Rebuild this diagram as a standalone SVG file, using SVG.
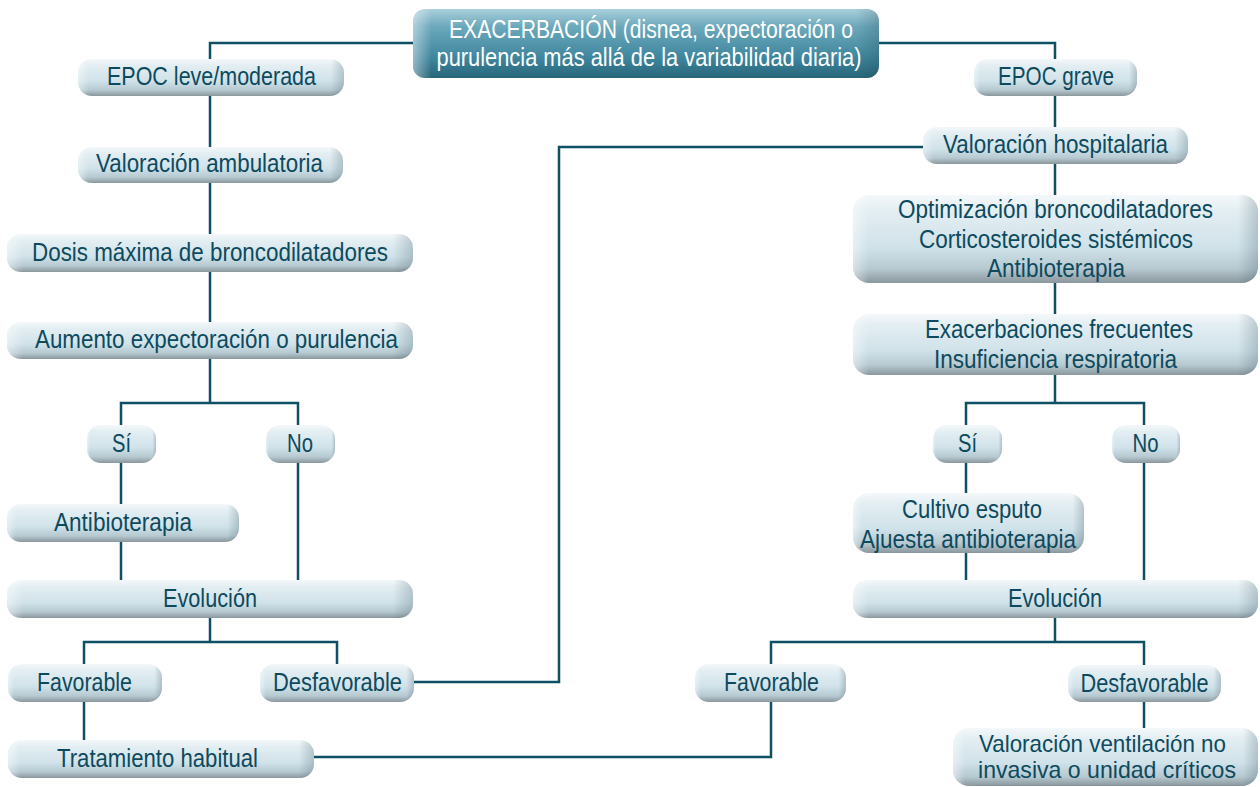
<svg xmlns="http://www.w3.org/2000/svg" width="1260" height="787" viewBox="0 0 1260 787">
  <defs>
    <!-- light pill body -->
    <linearGradient id="pill" x1="0" y1="0" x2="0" y2="1">
      <stop offset="0" stop-color="#f4f8fa"/>
      <stop offset="0.18" stop-color="#e3eef2"/>
      <stop offset="0.6" stop-color="#d0e2e9"/>
      <stop offset="0.84" stop-color="#b6c8d0"/>
      <stop offset="1" stop-color="#8a979d"/>
    </linearGradient>
    <!-- side shading of the pills -->
    <linearGradient id="pillSide" x1="0" y1="0" x2="1" y2="0">
      <stop offset="0" stop-color="#ffffff" stop-opacity="0.45"/>
      <stop offset="0.04" stop-color="#ffffff" stop-opacity="0"/>
      <stop offset="0.95" stop-color="#1d3f4c" stop-opacity="0"/>
      <stop offset="1" stop-color="#1d3f4c" stop-opacity="0.22"/>
    </linearGradient>
    <!-- dark teal header -->
    <linearGradient id="head" x1="0" y1="0" x2="0" y2="1">
      <stop offset="0" stop-color="#a9d0dc"/>
      <stop offset="0.25" stop-color="#6da9bc"/>
      <stop offset="0.7" stop-color="#3f879e"/>
      <stop offset="1" stop-color="#276579"/>
    </linearGradient>
    <style>
      .box { fill: url(#pill); }
      .side { fill: url(#pillSide); }
      .lbl { font-family: "Liberation Sans Narrow", "Liberation Sans", "DejaVu Sans Condensed", sans-serif; font-size: 26px; fill: #0d4a5e; text-anchor: middle; }
      .sm { font-size: 24px; }
      .hlbl { font-family: "Liberation Sans Narrow", "Liberation Sans", "DejaVu Sans Condensed", sans-serif; font-size: 26px; fill: #ffffff; text-anchor: middle; }
      .wire { fill: none; stroke: #0f4f64; stroke-width: 2.5; }
    </style>
  </defs>

  <rect width="1260" height="787" fill="#ffffff"/>

  <!-- connectors -->
  <g id="connectors" class="wire">
    <path d="M413,43 H210 V59"/>
    <path d="M879,43 H1055 V59"/>
    <path d="M210,96 V147"/>
    <path d="M210,183 V234"/>
    <path d="M210,272 V322"/>
    <path d="M210,359 V403"/>
    <path d="M121,425 V403 H298 V425"/>
    <path d="M121,463 V504"/>
    <path d="M121,542 V580"/>
    <path d="M298,463 V580"/>
    <path d="M210,618 V642"/>
    <path d="M84,664 V642 H337 V664"/>
    <path d="M84,702 V740"/>
    <path d="M414,682 H559 V147 H923"/>
    <path d="M314,757 H771 V702"/>
    <path d="M1055,96 V127"/>
    <path d="M1055,164 V195"/>
    <path d="M1055,283 V314"/>
    <path d="M1055,375 V403"/>
    <path d="M966,425 V403 H1144 V425"/>
    <path d="M966,463 V493"/>
    <path d="M966,553 V580"/>
    <path d="M1144,463 V580"/>
    <path d="M1055,618 V642"/>
    <path d="M771,664 V642 H1144 V665"/>
    <path d="M1144,702 V728"/>
  </g>

  <!-- header -->
  <g id="exacerbacion">
    <rect x="413" y="9" width="466" height="69" rx="12" fill="url(#head)"/>
    <rect x="413" y="9" width="466" height="69" rx="12" class="side"/>
    <text class="hlbl" x="651" y="38" textLength="404" lengthAdjust="spacingAndGlyphs">EXACERBACIÓN (disnea, expectoración o</text>
    <text class="hlbl" x="649" y="66" textLength="425" lengthAdjust="spacingAndGlyphs">purulencia más allá de la variabilidad diaria)</text>
  </g>

  <!-- left branch -->
  <g id="epoc-leve">
    <rect class="box" x="78" y="59" width="266" height="37" rx="14"/>
    <rect class="side" x="78" y="59" width="266" height="37" rx="14"/>
    <text class="lbl" x="211.5" y="85" textLength="209" lengthAdjust="spacingAndGlyphs">EPOC leve/moderada</text>
  </g>
  <g id="valoracion-ambulatoria">
    <rect class="box" x="78" y="147" width="265" height="36" rx="14"/>
    <rect class="side" x="78" y="147" width="265" height="36" rx="14"/>
    <text class="lbl" x="209.5" y="172" textLength="227" lengthAdjust="spacingAndGlyphs">Valoración ambulatoria</text>
  </g>
  <g id="dosis-maxima">
    <rect class="box" x="7" y="234" width="406" height="38" rx="14"/>
    <rect class="side" x="7" y="234" width="406" height="38" rx="14"/>
    <text class="lbl" x="210" y="261" textLength="356" lengthAdjust="spacingAndGlyphs">Dosis máxima de broncodilatadores</text>
  </g>
  <g id="aumento-expectoracion">
    <rect class="box" x="7" y="322" width="406" height="37" rx="14"/>
    <rect class="side" x="7" y="322" width="406" height="37" rx="14"/>
    <text class="lbl" x="216.5" y="348" textLength="363" lengthAdjust="spacingAndGlyphs">Aumento expectoración o purulencia</text>
  </g>
  <g id="si-izq">
    <rect class="box" x="87" y="425" width="69" height="38" rx="14"/>
    <rect class="side" x="87" y="425" width="69" height="38" rx="14"/>
    <text class="lbl" x="121.5" y="452" textLength="19" lengthAdjust="spacingAndGlyphs">Sí</text>
  </g>
  <g id="no-izq">
    <rect class="box" x="266" y="425" width="69" height="38" rx="14"/>
    <rect class="side" x="266" y="425" width="69" height="38" rx="14"/>
    <text class="lbl" x="300" y="452" textLength="26" lengthAdjust="spacingAndGlyphs">No</text>
  </g>
  <g id="antibioterapia-izq">
    <rect class="box" x="7" y="504" width="232" height="38" rx="14"/>
    <rect class="side" x="7" y="504" width="232" height="38" rx="14"/>
    <text class="lbl" x="123" y="531" textLength="138" lengthAdjust="spacingAndGlyphs">Antibioterapia</text>
  </g>
  <g id="evolucion-izq">
    <rect class="box" x="7" y="580" width="406" height="38" rx="14"/>
    <rect class="side" x="7" y="580" width="406" height="38" rx="14"/>
    <text class="lbl" x="210" y="607" textLength="94" lengthAdjust="spacingAndGlyphs">Evolución</text>
  </g>
  <g id="favorable-izq">
    <rect class="box" x="8" y="664" width="154" height="38" rx="14"/>
    <rect class="side" x="8" y="664" width="154" height="38" rx="14"/>
    <text class="lbl" x="84.5" y="691" textLength="95" lengthAdjust="spacingAndGlyphs">Favorable</text>
  </g>
  <g id="desfavorable-izq">
    <rect class="box" x="260" y="664" width="154" height="38" rx="14"/>
    <rect class="side" x="260" y="664" width="154" height="38" rx="14"/>
    <text class="lbl" x="337.5" y="691" textLength="129" lengthAdjust="spacingAndGlyphs">Desfavorable</text>
  </g>
  <g id="tratamiento-habitual">
    <rect class="box" x="8" y="740" width="306" height="38" rx="14"/>
    <rect class="side" x="8" y="740" width="306" height="38" rx="14"/>
    <text class="lbl" x="157.5" y="767" textLength="201" lengthAdjust="spacingAndGlyphs">Tratamiento habitual</text>
  </g>

  <!-- right branch -->
  <g id="epoc-grave">
    <rect class="box" x="974" y="59" width="163" height="37" rx="14"/>
    <rect class="side" x="974" y="59" width="163" height="37" rx="14"/>
    <text class="lbl" x="1056" y="85" textLength="116" lengthAdjust="spacingAndGlyphs">EPOC grave</text>
  </g>
  <g id="valoracion-hospitalaria">
    <rect class="box" x="923" y="127" width="265" height="37" rx="14"/>
    <rect class="side" x="923" y="127" width="265" height="37" rx="14"/>
    <text class="lbl" x="1055.5" y="153" textLength="225" lengthAdjust="spacingAndGlyphs">Valoración hospitalaria</text>
  </g>
  <g id="optimizacion">
    <rect class="box" x="853" y="195" width="405" height="88" rx="16"/>
    <rect class="side" x="853" y="195" width="405" height="88" rx="16"/>
    <text class="lbl" x="1055.5" y="218" textLength="315" lengthAdjust="spacingAndGlyphs">Optimización broncodilatadores</text>
    <text class="lbl" x="1056" y="248" textLength="274" lengthAdjust="spacingAndGlyphs">Corticosteroides sistémicos</text>
    <text class="lbl" x="1056" y="277" textLength="138" lengthAdjust="spacingAndGlyphs">Antibioterapia</text>
  </g>
  <g id="exacerbaciones-frecuentes">
    <rect class="box" x="853" y="314" width="405" height="61" rx="16"/>
    <rect class="side" x="853" y="314" width="405" height="61" rx="16"/>
    <text class="lbl" x="1059" y="338" textLength="268" lengthAdjust="spacingAndGlyphs">Exacerbaciones frecuentes</text>
    <text class="lbl" x="1055.5" y="368" textLength="243" lengthAdjust="spacingAndGlyphs">Insuficiencia respiratoria</text>
  </g>
  <g id="si-der">
    <rect class="box" x="933" y="425" width="69" height="38" rx="14"/>
    <rect class="side" x="933" y="425" width="69" height="38" rx="14"/>
    <text class="lbl" x="967.5" y="452" textLength="19" lengthAdjust="spacingAndGlyphs">Sí</text>
  </g>
  <g id="no-der">
    <rect class="box" x="1112" y="425" width="68" height="38" rx="14"/>
    <rect class="side" x="1112" y="425" width="68" height="38" rx="14"/>
    <text class="lbl" x="1145.5" y="452" textLength="26" lengthAdjust="spacingAndGlyphs">No</text>
  </g>
  <g id="cultivo-esputo">
    <rect class="box" x="853" y="493" width="231" height="60" rx="16"/>
    <rect class="side" x="853" y="493" width="231" height="60" rx="16"/>
    <text class="lbl" x="972" y="518" textLength="140" lengthAdjust="spacingAndGlyphs">Cultivo esputo</text>
    <text class="lbl" x="968" y="548" textLength="216" lengthAdjust="spacingAndGlyphs">Ajuesta antibioterapia</text>
  </g>
  <g id="evolucion-der">
    <rect class="box" x="853" y="580" width="405" height="38" rx="14"/>
    <rect class="side" x="853" y="580" width="405" height="38" rx="14"/>
    <text class="lbl" x="1055" y="607" textLength="94" lengthAdjust="spacingAndGlyphs">Evolución</text>
  </g>
  <g id="favorable-der">
    <rect class="box" x="695" y="664" width="151" height="38" rx="14"/>
    <rect class="side" x="695" y="664" width="151" height="38" rx="14"/>
    <text class="lbl" x="771.5" y="691" textLength="95" lengthAdjust="spacingAndGlyphs">Favorable</text>
  </g>
  <g id="desfavorable-der">
    <rect class="box" x="1068" y="665" width="153" height="37" rx="14"/>
    <rect class="side" x="1068" y="665" width="153" height="37" rx="14"/>
    <text class="lbl" x="1144.5" y="692" textLength="128" lengthAdjust="spacingAndGlyphs">Desfavorable</text>
  </g>
  <g id="ventilacion-no-invasiva">
    <rect class="box" x="953" y="728" width="305" height="58" rx="16"/>
    <rect class="side" x="953" y="728" width="305" height="58" rx="16"/>
    <text class="lbl sm" x="1102.5" y="752" textLength="247" lengthAdjust="spacingAndGlyphs">Valoración ventilación no</text>
    <text class="lbl sm" x="1107" y="778" textLength="258" lengthAdjust="spacingAndGlyphs">invasiva o unidad críticos</text>
  </g>
</svg>
